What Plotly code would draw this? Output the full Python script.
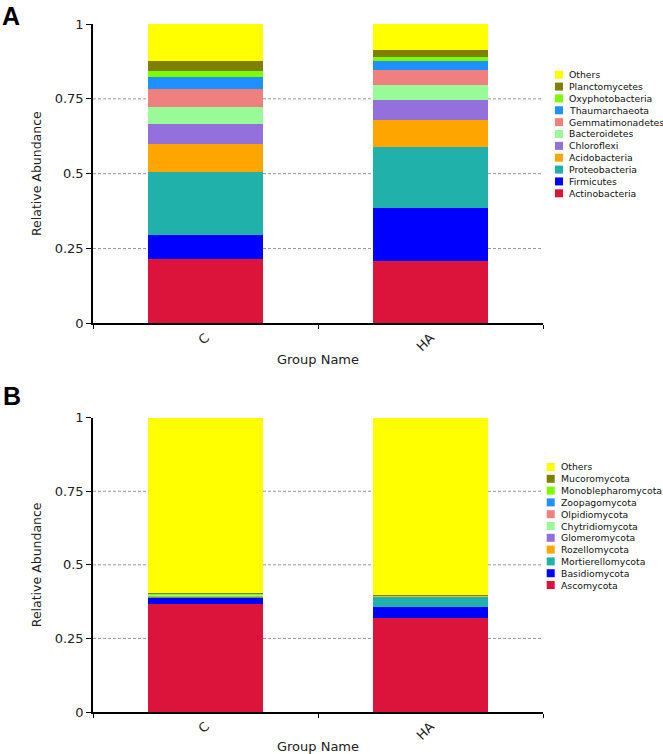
import plotly.graph_objects as go

groups = ["C", "HA"]

bacteria_names = ["Actinobacteria", "Firmicutes", "Proteobacteria", "Acidobacteria",
                  "Chloroflexi", "Bacteroidetes", "Gemmatimonadetes", "Thaumarchaeota",
                  "Oxyphotobacteria", "Planctomycetes", "Others"]
bacteria_C = [0.214, 0.081, 0.211, 0.093, 0.067, 0.058, 0.058, 0.041, 0.019, 0.034, 0.124]
bacteria_HA = [0.209, 0.177, 0.202, 0.092, 0.065, 0.050, 0.052, 0.028, 0.014, 0.025, 0.086]

fungi_names = ["Ascomycota", "Basidiomycota", "Mortierellomycota", "Rozellomycota",
               "Glomeromycota", "Chytridiomycota", "Olpidiomycota", "Zoopagomycota",
               "Monoblepharomycota", "Mucoromycota", "Others"]
fungi_C = [0.366, 0.023, 0.006, 0.002, 0.001, 0.001, 0.001, 0.001, 0.001, 0.001, 0.597]
fungi_HA = [0.320, 0.037, 0.032, 0.002, 0.001, 0.001, 0.001, 0.001, 0.0005, 0.001, 0.6035]

palette = ["#DC143C", "#0000FF", "#20B2AA", "#FFA500", "#9370DB", "#98FB98",
           "#F08080", "#1E90FF", "#7CFC00", "#808000", "#FFFF00"]

y_ticks = [0, 0.25, 0.5, 0.75, 1]
y_ticklabels = ["0", "0.25", "0.5", "0.75", "1"]

FONT = "DejaVu Sans"
W, H = 663, 754
ML, MR, MT, MB = 93, 120, 24, 42
PW, PH = W - ML - MR, H - MT - MB


def px_to_paper(px, py):
    return (px - ML) / PW, (H - MB - py) / PH


fig = go.Figure()
for i, name in enumerate(bacteria_names):
    fig.add_trace(go.Bar(x=groups, y=[bacteria_C[i], bacteria_HA[i]], name=name,
                         marker=dict(color=palette[i], line=dict(width=0)),
                         xaxis="x", yaxis="y", showlegend=False))
for i, name in enumerate(fungi_names):
    fig.add_trace(go.Bar(x=groups, y=[fungi_C[i], fungi_HA[i]], name=name,
                         marker=dict(color=palette[i], line=dict(width=0)),
                         xaxis="x2", yaxis="y2", showlegend=False))

xaxis_common = dict(showline=True, linecolor="black", linewidth=1.5, ticks="outside",
                    tickson="boundaries", ticklen=4, tickcolor="black", tickangle=-45,
                    showgrid=False, automargin=False,
                    tickfont=dict(family=FONT, size=13, color="#222"),
                    title=dict(text="Group Name", font=dict(family=FONT, size=13, color="#222"),
                               standoff=2))
yaxis_common = dict(range=[0, 1], tickvals=y_ticks, ticktext=y_ticklabels, showline=True,
                    linecolor="black", linewidth=1.5, ticks="outside", ticklen=5,
                    tickcolor="black", showgrid=False, zeroline=False, automargin=False,
                    tickfont=dict(family=FONT, size=13, color="#222"),
                    title=dict(text="Relative Abundance",
                               font=dict(family=FONT, size=12.5, color="#222"), standoff=10))

shapes = []
for yr, xr in [("y", "x"), ("y2", "x2")]:
    for v in y_ticks[1:-1]:
        shapes.append(dict(type="line", xref=xr + " domain", yref=yr, x0=0, x1=1, y0=v, y1=v,
                           line=dict(color="#999", width=1, dash="3px,2px"), layer="below"))

annotations = [
    dict(text="<b>A</b>", xref="paper", yref="paper", x=px_to_paper(0, 0)[0],
         y=px_to_paper(0, 16)[1], showarrow=False, xanchor="left", yanchor="middle",
         font=dict(family="Liberation Sans", size=25, color="black")),
    dict(text="<b>B</b>", xref="paper", yref="paper", x=px_to_paper(1, 0)[0],
         y=px_to_paper(0, 396)[1], showarrow=False, xanchor="left", yanchor="middle",
         font=dict(family="Liberation Sans", size=25, color="black")),
]

# compact legends (reversed order: Others on top)
SQ = 8
legend_specs = [
    (bacteria_names, 555.0, 566.7, 74.7, 11.86),
    (fungi_names, 546.7, 558.7, 467.0, 11.8),
]
for names, sq_x, txt_x, top, step in legend_specs:
    n = len(names)
    for k in range(n):
        idx = n - 1 - k
        cy = top + k * step
        x0, y0 = px_to_paper(sq_x, cy + SQ / 2)
        x1, y1 = px_to_paper(sq_x + SQ, cy - SQ / 2)
        shapes.append(dict(type="rect", xref="paper", yref="paper", x0=x0, x1=x1, y0=y0, y1=y1,
                           fillcolor=palette[idx], line=dict(width=0)))
        tx, ty = px_to_paper(txt_x, cy)
        annotations.append(dict(text=names[idx], xref="paper", yref="paper", x=tx, y=ty,
                                showarrow=False, xanchor="left", yanchor="middle",
                                font=dict(family=FONT, size=9.3, color="#111")))

fig.update_layout(
    width=W, height=H,
    barmode="stack", bargap=0.49,
    plot_bgcolor="white", paper_bgcolor="white",
    margin=dict(l=ML, r=MR, t=MT, b=MB, autoexpand=False),
    showlegend=False,
    xaxis=dict(domain=[0, 1], anchor="y", **xaxis_common),
    yaxis=dict(domain=[(H - MB - 323.3) / PH, 1], anchor="x", **yaxis_common),
    xaxis2=dict(domain=[0, 1], anchor="y2", **xaxis_common),
    yaxis2=dict(domain=[0, (H - MB - 417.7) / PH], anchor="x2", **yaxis_common),
    shapes=shapes,
    annotations=annotations,
)

fig.write_html("out.html", config={"displayModeBar": False},
               post_script="document.body.style.margin='0';")
